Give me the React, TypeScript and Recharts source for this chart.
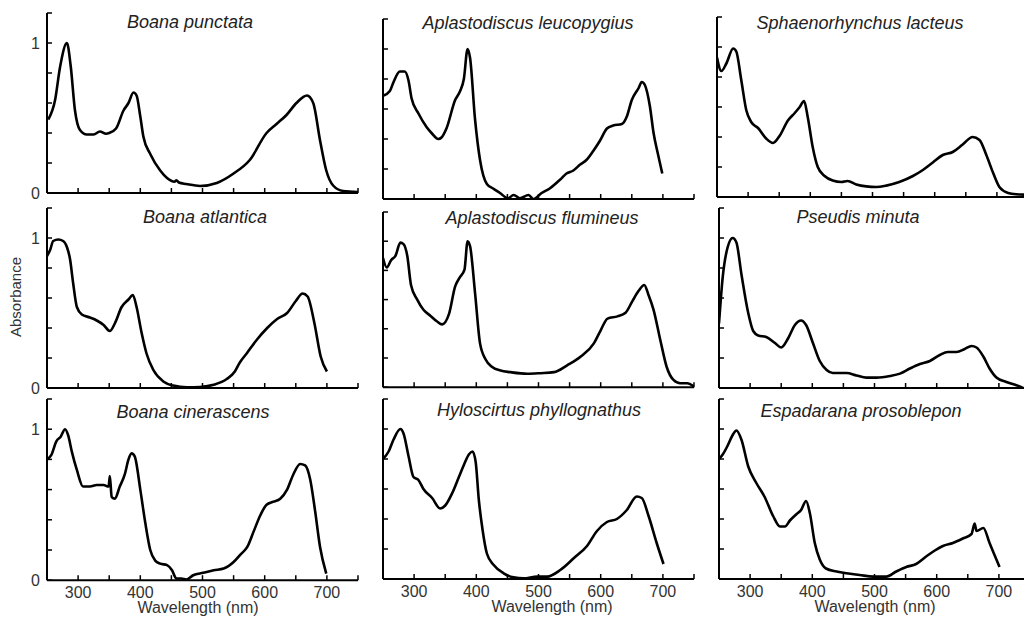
import React from 'react';
import { LineChart, Line, XAxis, YAxis } from 'recharts';

// ---------- data ----------
const xTicks = [250, 300, 350, 400, 450, 500, 550, 600, 650, 700, 750];
const xTickLabels = [300, 400, 500, 600, 700];
const yTicks = [0, 0.2, 0.4, 0.6, 0.8, 1, 1.2];
const yTickLabels = [0, 1];

const boanaPunctata: [number, number][] = [
  [252, 0.49], [263, 0.62], [271, 0.84], [282, 1.0], [288, 0.85], [295, 0.55], [303, 0.42], [314, 0.39],
  [325, 0.39], [335, 0.41], [345, 0.395], [350, 0.4], [361, 0.43], [373, 0.55], [381, 0.6], [389, 0.67],
  [394, 0.65], [400, 0.51], [405, 0.375], [416, 0.26], [432, 0.15], [443, 0.1], [455, 0.075], [458, 0.085],
  [462, 0.07], [474, 0.06], [496, 0.047], [523, 0.067], [550, 0.13], [576, 0.22], [603, 0.4], [619, 0.46],
  [635, 0.52], [651, 0.6], [668, 0.65], [678, 0.6], [689, 0.35], [699, 0.15], [710, 0.05], [726, 0.013], [750, 0.007],
];

const aplastodiscusLeucopygius: [number, number][] = [
  [251, 0.69], [261, 0.72], [267, 0.78], [277, 0.85], [285, 0.85], [291, 0.79], [296, 0.67], [307, 0.57],
  [320, 0.48], [328, 0.44], [339, 0.4], [344, 0.41], [352, 0.47], [366, 0.66], [374, 0.72], [380, 0.8],
  [386, 1.0], [390, 0.94], [398, 0.53], [406, 0.26], [417, 0.1], [427, 0.07], [438, 0.04], [451, 0.005],
  [460, 0.027], [470, 0.005], [484, 0.027], [492, 0.0], [505, 0.04], [518, 0.07], [535, 0.13], [545, 0.17],
  [556, 0.19], [567, 0.23], [577, 0.26], [588, 0.32], [599, 0.39], [610, 0.47], [620, 0.49], [634, 0.5],
  [642, 0.55], [650, 0.66], [661, 0.74], [666, 0.78], [671, 0.76], [679, 0.62], [685, 0.44], [692, 0.3], [699, 0.17],
];

const sphaenorhynchusLacteus: [number, number][] = [
  [250, 0.93], [257, 0.84], [265, 0.89], [276, 0.99], [281, 0.97], [289, 0.78], [297, 0.58], [305, 0.5],
  [316, 0.46], [329, 0.39], [340, 0.36], [351, 0.41], [364, 0.51], [375, 0.56], [383, 0.6], [390, 0.64],
  [396, 0.53], [404, 0.33], [412, 0.2], [423, 0.14], [436, 0.11], [450, 0.1], [460, 0.107], [474, 0.084],
  [490, 0.071], [506, 0.067], [522, 0.076], [543, 0.1], [565, 0.14], [581, 0.18], [597, 0.23], [613, 0.28],
  [629, 0.3], [645, 0.35], [661, 0.4], [672, 0.38], [683, 0.28], [694, 0.16], [704, 0.067], [718, 0.027],
  [731, 0.018], [750, 0.015],
];

const boanaAtlantica: [number, number][] = [
  [250, 0.88], [255, 0.92], [260, 0.98], [268, 0.99], [276, 0.98], [282, 0.94], [287, 0.86], [292, 0.7],
  [298, 0.54], [306, 0.49], [319, 0.47], [330, 0.45], [341, 0.42], [351, 0.38], [359, 0.43], [370, 0.54],
  [381, 0.59], [388, 0.62], [394, 0.54], [402, 0.37], [410, 0.23], [421, 0.12], [437, 0.044], [453, 0.016],
  [475, 0.004], [496, 0.007], [518, 0.022], [539, 0.06], [552, 0.11], [560, 0.17], [571, 0.23], [587, 0.32],
  [604, 0.4], [620, 0.46], [636, 0.5], [650, 0.58], [661, 0.63], [669, 0.61], [680, 0.43], [690, 0.21], [700, 0.11],
];

const aplastodiscusFlumineus: [number, number][] = [
  [250, 0.885], [256, 0.82], [263, 0.87], [270, 0.9], [278, 0.99], [283, 0.98], [289, 0.9], [295, 0.7],
  [305, 0.6], [315, 0.53], [326, 0.49], [337, 0.45], [345, 0.43], [356, 0.5], [366, 0.69], [374, 0.755],
  [381, 0.805], [386, 1.0], [390, 0.965], [398, 0.645], [406, 0.3], [415, 0.19], [425, 0.14], [439, 0.114],
  [455, 0.103], [482, 0.092], [503, 0.096], [525, 0.103], [546, 0.15], [568, 0.21], [589, 0.3], [600, 0.39],
  [611, 0.47], [627, 0.485], [640, 0.51], [651, 0.59], [661, 0.66], [670, 0.7], [677, 0.63], [685, 0.53],
  [696, 0.32], [706, 0.14], [717, 0.05], [728, 0.027], [739, 0.027], [750, 0.005],
];

const pseudisMinuta: [number, number][] = [
  [250, 0.43], [256, 0.74], [264, 0.94], [272, 1.0], [278, 0.97], [286, 0.76], [297, 0.5], [305, 0.38],
  [313, 0.35], [326, 0.34], [340, 0.3], [350, 0.27], [361, 0.33], [372, 0.42], [382, 0.45], [390, 0.42],
  [401, 0.3], [412, 0.18], [423, 0.12], [433, 0.1], [455, 0.1], [471, 0.084], [487, 0.069], [503, 0.069],
  [525, 0.08], [541, 0.096], [557, 0.13], [573, 0.16], [589, 0.18], [605, 0.22], [618, 0.24], [632, 0.24],
  [645, 0.26], [656, 0.28], [664, 0.27], [675, 0.21], [685, 0.13], [696, 0.07], [712, 0.04], [728, 0.018], [739, 0.0],
];

const boanaCinerascens: [number, number][] = [
  [250, 0.8], [257, 0.83], [265, 0.92], [272, 0.95], [279, 1.0], [284, 0.96], [290, 0.85], [298, 0.73],
  [308, 0.62], [319, 0.62], [330, 0.63], [341, 0.63], [349, 0.62], [351, 0.69], [354, 0.55], [359, 0.54],
  [367, 0.62], [375, 0.7], [381, 0.8], [386, 0.84], [391, 0.82], [400, 0.6], [408, 0.38], [416, 0.2],
  [424, 0.13], [432, 0.11], [443, 0.1], [451, 0.066], [458, 0.011], [466, 0.011], [474, 0.004], [485, 0.033],
  [501, 0.049], [518, 0.066], [534, 0.077], [550, 0.12], [561, 0.17], [572, 0.22], [582, 0.32], [593, 0.43],
  [603, 0.5], [614, 0.52], [625, 0.54], [636, 0.6], [646, 0.7], [657, 0.77], [665, 0.76], [673, 0.67],
  [681, 0.46], [689, 0.22], [699, 0.044],
];

const hyloscirtusPhyllognathus: [number, number][] = [
  [250, 0.8], [259, 0.85], [267, 0.93], [278, 1.0], [283, 0.97], [291, 0.82], [299, 0.68], [307, 0.66],
  [315, 0.6], [329, 0.54], [342, 0.47], [350, 0.49], [361, 0.57], [372, 0.68], [380, 0.76], [388, 0.83],
  [394, 0.85], [399, 0.78], [404, 0.53], [410, 0.33], [417, 0.17], [428, 0.093], [444, 0.038], [460, 0.011],
  [476, 0.004], [498, 0.016], [514, 0.016], [535, 0.06], [557, 0.14], [578, 0.22], [594, 0.32], [610, 0.38],
  [626, 0.4], [642, 0.46], [658, 0.55], [666, 0.54], [677, 0.42], [690, 0.24], [701, 0.1],
];

const espadaranaProsoblepon: [number, number][] = [
  [250, 0.8], [256, 0.83], [264, 0.89], [272, 0.96], [278, 0.99], [286, 0.93], [297, 0.75], [310, 0.64],
  [323, 0.55], [337, 0.42], [348, 0.35], [356, 0.35], [364, 0.39], [374, 0.43], [382, 0.46], [390, 0.52],
  [396, 0.44], [404, 0.24], [412, 0.13], [422, 0.07], [439, 0.05], [455, 0.038], [476, 0.027], [498, 0.016],
  [519, 0.016], [535, 0.05], [551, 0.08], [567, 0.1], [583, 0.15], [597, 0.19], [610, 0.22], [626, 0.24],
  [642, 0.27], [656, 0.3], [661, 0.37], [664, 0.32], [675, 0.34], [685, 0.24], [696, 0.13], [701, 0.08],
];

const titles = [
  'Boana punctata', 'Aplastodiscus leucopygius', 'Sphaenorhynchus lacteus',
  'Boana atlantica', 'Aplastodiscus flumineus', 'Pseudis minuta',
  'Boana cinerascens', 'Hyloscirtus phyllognathus', 'Espadarana prosoblepon',
];
const series = [
  boanaPunctata, aplastodiscusLeucopygius, sphaenorhynchusLacteus,
  boanaAtlantica, aplastodiscusFlumineus, pseudisMinuta,
  boanaCinerascens, hyloscirtusPhyllognathus, espadaranaProsoblepon,
];

// ---------- layout ----------
const layout = [
  { left: 47, bottom: 193, scale: 150, tx: 190, ty: 22, lx: 0 },
  { left: 383, bottom: 199, scale: 150, tx: 528, ty: 23, lx: 0 },
  { left: 717, bottom: 197, scale: 150, tx: 860, ty: 23, lx: 0 },
  { left: 47, bottom: 388, scale: 150, tx: 205, ty: 217, lx: 0 },
  { left: 383, bottom: 387, scale: 146, tx: 542, ty: 218, lx: 0 },
  { left: 719, bottom: 388, scale: 150, tx: 858, ty: 217, lx: 0 },
  { left: 47, bottom: 580, scale: 151, tx: 193, ty: 412, lx: 198 },
  { left: 383, bottom: 579, scale: 150, tx: 539, ty: 410, lx: 552 },
  { left: 719, bottom: 579, scale: 150, tx: 861, ty: 411, lx: 875 },
];

const FONT = '"Liberation Sans", Arial, Helvetica, sans-serif';
const PLOT_W = 311;
const Y_W = 40;
const TOP_PAD = 8;
const X_H = 40;
const RIGHT_PAD = 6;

function Panel({ idx }: { idx: number }) {
  const lay = layout[idx];
  const col = idx % 3;
  const row = Math.floor(idx / 3);
  const showY = col === 0;
  const showX = row === 2;
  const plotH = 1.2 * lay.scale;
  const data = series[idx].map(([wl, a]) => ({ wl, a }));

  const xTick = (props: any) => {
    const { x, y, payload } = props;
    const v = payload.value;
    return (
      <g>
        <line x1={x} x2={x} y1={y} y2={y - 5} stroke="#000" strokeWidth={1.5} />
        {showX && xTickLabels.includes(v) ? (
          <text x={x} y={y + 18} textAnchor="middle" fontSize={16} fill="#333" fontFamily={FONT}>
            {v}
          </text>
        ) : null}
      </g>
    );
  };

  const yTick = (props: any) => {
    const { x, y, payload } = props;
    const v = Math.round(payload.value * 10) / 10;
    return (
      <g>
        <line x1={x} x2={x + 5} y1={y} y2={y} stroke="#000" strokeWidth={1.5} />
        {showY && yTickLabels.includes(v) ? (
          <text x={x - 7} y={y + 6} textAnchor="end" fontSize={16} fill="#333" fontFamily={FONT}>
            {v}
          </text>
        ) : null}
      </g>
    );
  };

  return (
    <div style={{ position: 'absolute', left: lay.left - Y_W, top: lay.bottom - plotH - TOP_PAD }}>
      <LineChart
        width={Y_W + PLOT_W + RIGHT_PAD}
        height={TOP_PAD + plotH + X_H}
        data={data}
        margin={{ top: TOP_PAD, right: RIGHT_PAD, bottom: 0, left: 0 }}
      >
        <XAxis
          dataKey="wl"
          type="number"
          domain={[250, 750]}
          ticks={xTicks}
          interval={0}
          allowDataOverflow
          height={X_H}
          tickSize={0}
          tickMargin={0}
          tickLine={false}
          axisLine={{ stroke: '#000', strokeWidth: 2 }}
          tick={xTick}
        />
        <YAxis
          type="number"
          domain={[0, 1.2]}
          ticks={yTicks}
          interval={0}
          allowDataOverflow
          width={Y_W}
          tickSize={0}
          tickMargin={0}
          tickLine={false}
          axisLine={{ stroke: '#000', strokeWidth: 2 }}
          tick={yTick}
        />
        <Line
          dataKey="a"
          type="monotone"
          stroke="#000"
          strokeWidth={2.6}
          dot={false}
          activeDot={false}
          isAnimationActive={false}
        />
      </LineChart>
    </div>
  );
}

export default function App() {
  return (
    <div
      style={{
        position: 'fixed',
        left: 0,
        top: 0,
        width: 1024,
        height: 619,
        overflow: 'hidden',
        background: '#fff',
        fontFamily: FONT,
      }}
    >
      {titles.map((_, i) => (
        <Panel key={i} idx={i} />
      ))}
      {titles.map((t, i) => (
        <div
          key={'t' + i}
          style={{
            position: 'absolute',
            left: layout[i].tx,
            top: layout[i].ty,
            transform: 'translate(-50%, -50%)',
            fontSize: 18,
            fontStyle: 'italic',
            color: '#222',
            whiteSpace: 'nowrap',
            lineHeight: 1,
          }}
        >
          {t}
        </div>
      ))}
      {layout
        .filter((l) => l.lx > 0)
        .map((l, i) => (
          <div
            key={'x' + i}
            style={{
              position: 'absolute',
              left: l.lx,
              top: l.bottom + 28,
              transform: 'translate(-50%, -50%)',
              fontSize: 16,
              color: '#333',
              whiteSpace: 'nowrap',
              lineHeight: 1,
            }}
          >
            Wavelength (nm)
          </div>
        ))}
      <div
        style={{
          position: 'absolute',
          left: 15,
          top: 297,
          transform: 'translate(-50%, -50%) rotate(-90deg)',
          fontSize: 15,
          color: '#333',
          whiteSpace: 'nowrap',
          lineHeight: 1,
        }}
      >
        Absorbance
      </div>
    </div>
  );
}
